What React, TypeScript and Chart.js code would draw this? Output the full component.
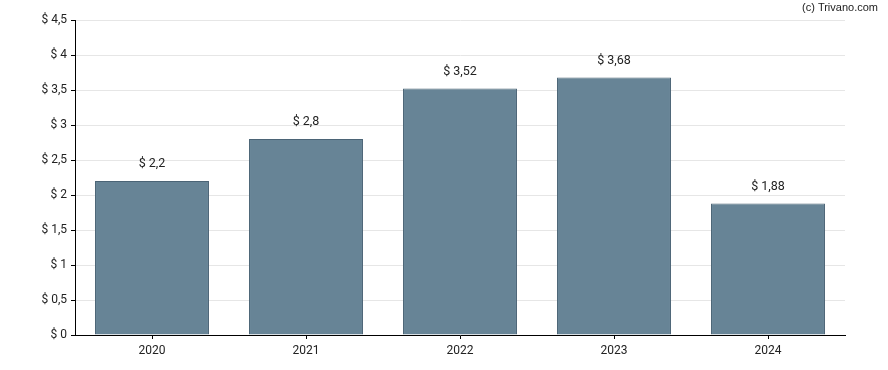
import React, { useEffect, useRef } from "react";
import { Chart, registerables } from "chart.js";

Chart.register(...registerables);

const categories = ["2020", "2021", "2022", "2023", "2024"];
const values = [2.2, 2.8, 3.52, 3.68, 1.88];
const yTicks = [0, 0.5, 1, 1.5, 2, 2.5, 3, 3.5, 4, 4.5];

const fmt = (v: number) => "$ " + String(v).replace(".", ",");

export default function App() {
  const ref = useRef<HTMLCanvasElement | null>(null);
  useEffect(() => {
    document.body.style.margin = "0";
    const ctx = ref.current!;
    const labelPlugin = {
      id: "labels",
      afterDatasetsDraw(chart: any) {
        const c = chart.ctx;
        const meta = chart.getDatasetMeta(0);
        c.save();
        c.font = "12.5px Roboto";
        c.fillStyle = "#222";
        c.textAlign = "center";
        c.textBaseline = "middle";
        meta.data.forEach((bar: any, i: number) => {
          c.fillText(fmt(values[i]), bar.x, bar.y - 17);
        });
        c.font = "11px 'Liberation Sans', Arial";
        c.fillStyle = "#222";
        c.textAlign = "right";
        c.fillText("(c) Trivano.com", 878, 8);
        c.restore();
      },
    };
    const chart = new Chart(ctx, {
      type: "bar",
      data: {
        labels: categories,
        datasets: [
          {
            data: values,
            backgroundColor: "#678496",
            borderColor: "#4b6476",
            borderWidth: 1,
            categoryPercentage: 1,
            barPercentage: 0.74,
          },
        ],
      },
      options: {
        animation: false,
        responsive: false,
        maintainAspectRatio: false,
        layout: { padding: { top: 20, right: 43, left: 0, bottom: 0 } },
        plugins: { legend: { display: false }, tooltip: { enabled: false } },
        scales: {
          x: {
            grid: {
              offset: false,
              drawOnChartArea: false,
              drawTicks: true,
              tickLength: 4,
              color: "#000",
              tickColor: "#000",
            },
            border: { color: "#000", width: 1 },
            ticks: {
              font: { family: "Roboto", size: 12 },
              color: "#222",
              padding: 5,
              maxRotation: 0,
            },
            afterFit: (s: any) => {
              s.height = 35;
            },
          },
          y: {
            min: 0,
            max: 4.5,
            afterBuildTicks: (s: any) => {
              s.ticks = yTicks.map((v) => ({ value: v }));
            },
            grid: {
              color: "#e6e6e6",
              tickColor: "#000",
              tickLength: 4,
            },
            border: { color: "#000", width: 1 },
            ticks: {
              font: { family: "Roboto", size: 12 },
              color: "#222",
              padding: 4,
              callback: (v: any) => fmt(Number(v)),
            },
            afterFit: (s: any) => {
              s.width = 75;
            },
          },
        },
      },
      plugins: [labelPlugin],
    });
    return () => chart.destroy();
  }, []);
  return (
    <div style={{ position: "fixed", left: 0, top: 0, width: 888, height: 370 }}>
      <canvas ref={ref} width={888} height={370} style={{ width: 888, height: 370 }} />
    </div>
  );
}
